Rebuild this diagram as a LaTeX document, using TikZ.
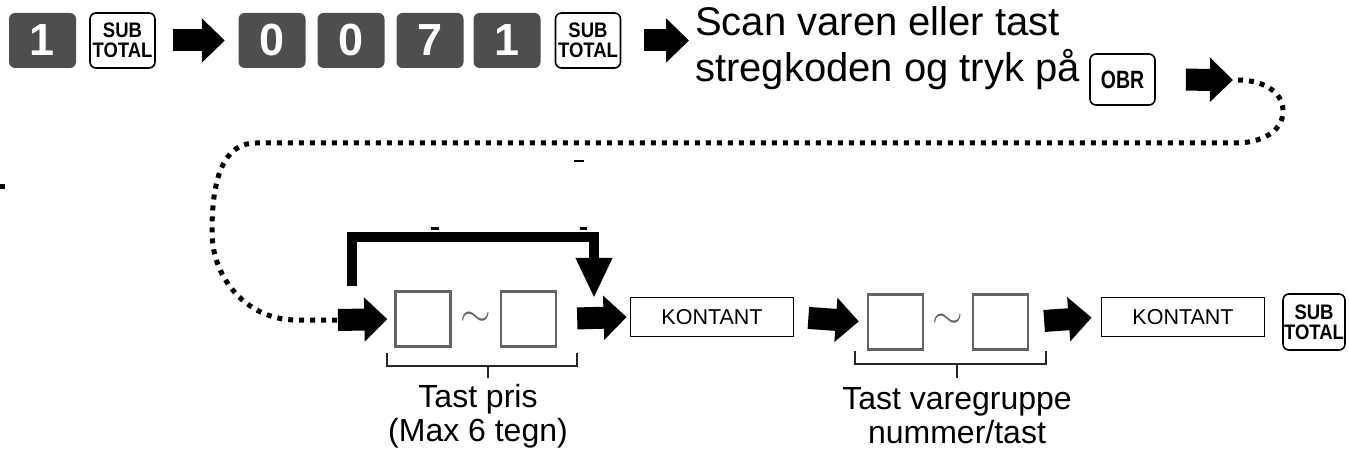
\documentclass[tikz,border=0pt]{standalone}
\usepackage{fontspec}
\usepackage{graphicx}
\setmainfont{Liberation Sans}
\newfontfamily\keyfont[FakeStretch=0.88]{Liberation Sans Bold}
\newfontfamily\obrfont[FakeStretch=0.78]{Liberation Sans Bold}
\usetikzlibrary{arrows.meta,calc}
\definecolor{keyg}{RGB}{78,78,78}
\definecolor{boxg}{RGB}{100,100,100}
\tikzset{
  darkkey/.style={fill=keyg, rounded corners=6pt, minimum width=67pt, minimum height=55pt,
    inner sep=0pt, text=white, font=\fontsize{45}{45}\bfseries\selectfont},
  subkey/.style={draw, line width=1.6pt, rounded corners=6pt, minimum width=65pt, minimum height=55pt,
    inner sep=0pt, align=center, font=\keyfont\fontsize{21}{20}\selectfont},
  emptybox/.style={draw=boxg, line width=2.4pt, minimum width=55pt, minimum height=55pt, inner sep=0pt},
  kbox/.style={draw, line width=1.8pt, minimum width=163pt, minimum height=39pt, inner sep=0pt,
    font=\fontsize{21.5}{21.5}\selectfont},
  barrow/.style={line width=22pt, -{Triangle[length=23pt,width=43pt]}},
  bypass/.style={line width=9.5pt, line join=miter, -{Triangle[length=40pt,width=34pt]}},
  dotline/.style={line width=5pt, dash pattern=on 5pt off 6pt},
  brk/.style={draw=black!85, line width=1.6pt},
  lbl/.style={align=center, font=\fontsize{32}{34}\selectfont, inner sep=0pt},
  tld/.style={text=boxg, font=\fontsize{20}{20}\selectfont, inner sep=0pt}
}
\begin{document}
\begin{tikzpicture}[x=1pt,y=-1pt]
\useasboundingbox (0,0) rectangle (1349,462);
% top row
\node[darkkey] (k1) at (42.5,40.5) {1};
\node[subkey] (s1) at (122.5,40.5) {SUB\\TOTAL};
\node[darkkey] (k2) at (272,40.5) {0};
\node[darkkey] (k3) at (351,40.5) {0};
\node[darkkey] (k4) at (430,40.5) {7};
\node[darkkey] (k5) at (507,40.5) {1};
\node[subkey] (s2) at (588,40.5) {SUB\\TOTAL};
\node[align=left, anchor=north west, inner sep=0pt, font=\fontsize{40}{46}\selectfont] (scan) at (695,6)
  {Scan varen eller tast\\stregkoden og tryk på};
\node[subkey, minimum width=65pt, minimum height=51pt, font=\obrfont\fontsize{25}{25}\selectfont] (obr) at (1122.5,79.5) {OBR};
\coordinate (d0) at (1238,80);
\draw[barrow, shorten <=17pt, shorten >=13.5pt] (s1.east) -- (k2.west);
\draw[barrow, shorten <=23pt, shorten >=0pt] (s2.east) -- (689,40.5) coordinate (a2end);
\draw[barrow, shorten <=30pt, shorten >=5pt] (obr.east) -- (d0);
% dotted return line
\coordinate (dE) at (338,320);
\draw[dotline] (d0) to[out=0,in=90] (1283,111) to[out=-90,in=0] (1236,143)
  -- (256,143) to[out=180,in=90] (212,232) to[out=-90,in=180] (296,320) -- (dE);
% bottom row
\node[emptybox] (b1) at (423,319) {};
\node[tld] (t1) at (476,319) {\scalebox{1.9}{$\sim$}};
\node[emptybox] (b2) at (528.5,319) {};
\node[kbox] (kon1) at (712,317) {KONTANT};
\node[emptybox] (b3) at (895.5,322) {};
\node[tld] (t2) at (947.5,321) {\scalebox{1.9}{$\sim$}};
\node[emptybox] (b4) at (1000.5,322) {};
\node[kbox] (kon2) at (1183,317) {KONTANT};
\node[subkey, minimum width=62pt, minimum height=56pt] (s3) at (1314,322) {SUB\\TOTAL};
\draw[barrow, shorten >=7pt] (dE) -- (b1.west);
\draw[barrow, shorten <=20pt, shorten >=3pt] (b2.east) -- (kon1.west);
\draw[barrow, shorten <=14pt, shorten >=8pt] (kon1.east) -- (b3.west);
\draw[barrow, shorten <=15pt, shorten >=9pt] (b4.east) -- (kon2.west);
% bypass
\coordinate (by0) at (352,286);
\coordinate (by1) at (594,298);
\draw[bypass] (by0) -- (352,237) -| (by1);
% brackets
\draw[brk] (387,353) -- (387,366) -- (577,366) -- (577,353);
\draw[brk] (488,366) -- (488,378);
\draw[brk] (855,351) -- (855,364) -- (1046,364) -- (1046,351);
\draw[brk] (957,364) -- (957,378);
\node[lbl] (l1) at (478,416) {Tast pris\\(Max 6 tegn)};
\node[lbl] (l2) at (957,416) {Tast varegruppe\\nummer/tast};
% small marks
\fill (0,184) rectangle (5,189);
\fill (431,227.5) rectangle (439,230);
\fill (580,227.5) rectangle (587,230);
\fill (574,160) rectangle (584,162);
\end{tikzpicture}
\end{document}
